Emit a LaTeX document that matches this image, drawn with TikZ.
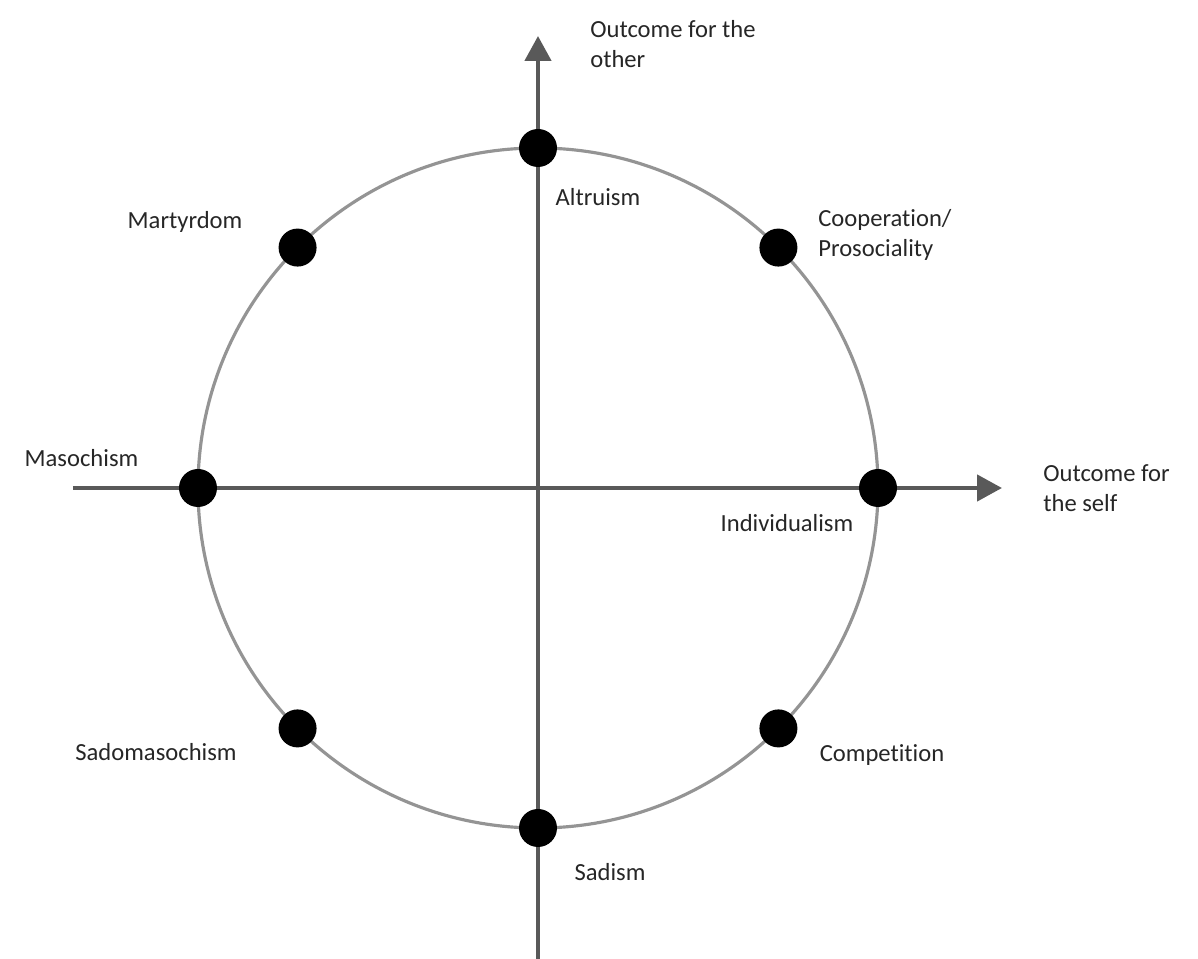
\documentclass[tikz,border=0pt]{standalone}
\usepackage{fontspec}
\setmainfont{Carlito}[Ligatures=NoCommon]
\usepackage{tikz}
\usetikzlibrary{arrows.meta}

\begin{document}
\begin{tikzpicture}[
  axis/.style={draw=black!65, line width=2.6pt, -{Triangle[length=0.5cm, width=0.52cm]}},
  ring/.style={draw=black!42, line width=1.8pt},
  dot/.style={circle, fill=black, inner sep=0pt, minimum size=0.76cm},
  lbl/.style={text=black!85, font=\fontsize{14}{17}\selectfont, align=left, inner sep=0pt}]

  \useasboundingbox (-10.76,-9.42) rectangle (13.2,9.76);

  % Circle
  \draw [ring] (0,0) circle (6.8);

  % Axes
  \coordinate (ybot) at (0,-9.42);
  \coordinate (ytop) at (0,9.04);
  \coordinate (xleft) at (-9.3,0);
  \coordinate (xright) at (9.28,0);
  \path [axis] (ybot) -- (ytop);
  \path [axis] (xleft) -- (xright);

  % Dots
  \node [dot] (alt) at (90:6.8) {};
  \node [dot] (coop) at (45:6.8) {};
  \node [dot] (ind) at (0:6.8) {};
  \node [dot] (comp) at (-45:6.8) {};
  \node [dot] (sad) at (-90:6.8) {};
  \node [dot] (sadmas) at (-135:6.8) {};
  \node [dot] (mas) at (180:6.8) {};
  \node [dot] (mart) at (135:6.8) {};

  % Labels
  \node [lbl] (altlbl) at (1.2,5.82) {Altruism};
  \node [lbl, anchor=west] (cooplbl) at (5.6,5.06) {Cooperation/\\Prosociality};
  \node [lbl] (indlbl) at (4.98,-0.7) {Individualism};
  \node [lbl] (complbl) at (6.88,-5.34) {Competition};
  \node [lbl] (sadlbl) at (1.44,-7.68) {Sadism};
  \node [lbl] (sadmaslbl) at (-7.64,-5.28) {Sadomasochism};
  \node [lbl] (maslbl) at (-9.13,0.6) {Masochism};
  \node [lbl] (martlbl) at (-7.06,5.32) {Martyrdom};
  \node [lbl, anchor=north west] (otherlbl) at (1.04,9.36) {Outcome for the\\other};
  \node [lbl, anchor=north west] (selflbl) at (10.1,0.47) {Outcome for\\the self};

\end{tikzpicture}
\end{document}
